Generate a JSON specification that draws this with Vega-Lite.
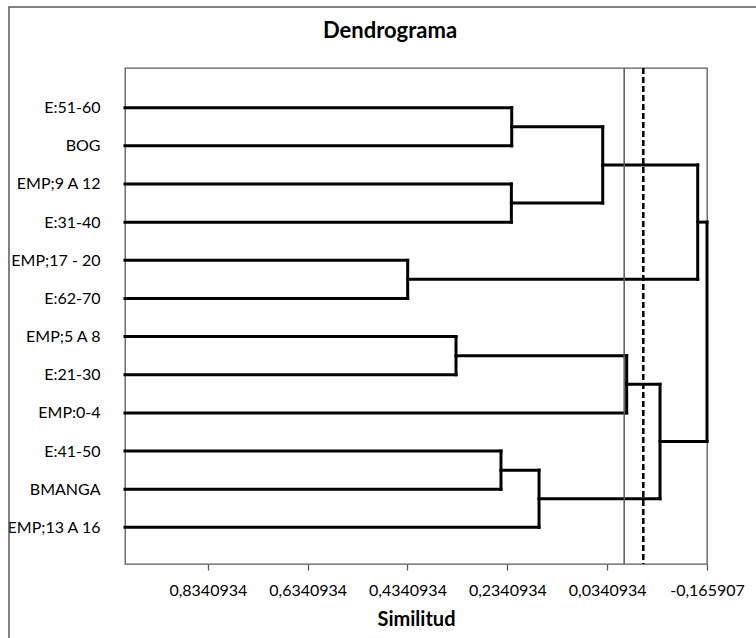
{
  "$schema": "https://vega.github.io/schema/vega-lite/v6.json",
  "autosize": {"type": "none"},
  "width": 582,
  "height": 496,
  "padding": {"left": 125, "top": 68, "right": 49, "bottom": 74},
  "background": "white",
  "title": {"text": "Dendrograma", "font": "Lato", "fontSize": 22, "fontWeight": "bold", "color": "#000", "anchor": "middle", "frame": "group", "dx": -26, "offset": -54, "baseline": "alphabetic"},
  "config": {
    "view": {"stroke": "#595959", "strokeWidth": 1.3},
    "font": "Lato",
    "axis": {"grid": false, "domain": false, "labelFont": "Lato", "labelFontSize": 16, "labelColor": "#000", "tickColor": "#595959", "tickWidth": 1.3, "titleFont": "Lato", "titleColor": "#000"}
  },
  "layer": [
    {
      "data": {"values": [{}]},
      "mark": {"type": "rect", "fillOpacity": 0, "stroke": "#595959", "strokeWidth": 1.5},
      "encoding": {
        "x": {"datum": 1.2324, "type": "quantitative"},
        "x2": {"datum": -0.3},
        "y": {"datum": -1.64, "type": "quantitative"},
        "y2": {"datum": 16}
      }
    },
    {
      "data": {"values": [
        {"x1": 1.0, "x2": 0.2253, "y1": 1, "y2": 1},
        {"x1": 1.0, "x2": 0.2253, "y1": 2, "y2": 2},
        {"x1": 1.0, "x2": 0.226, "y1": 3, "y2": 3},
        {"x1": 1.0, "x2": 0.226, "y1": 4, "y2": 4},
        {"x1": 1.0, "x2": 0.4337, "y1": 5, "y2": 5},
        {"x1": 1.0, "x2": 0.4337, "y1": 6, "y2": 6},
        {"x1": 1.0, "x2": 0.3369, "y1": 7, "y2": 7},
        {"x1": 1.0, "x2": 0.3369, "y1": 8, "y2": 8},
        {"x1": 1.0, "x2": -0.005, "y1": 9, "y2": 9},
        {"x1": 1.0, "x2": 0.2468, "y1": 10, "y2": 10},
        {"x1": 1.0, "x2": 0.2468, "y1": 11, "y2": 11},
        {"x1": 1.0, "x2": 0.1706, "y1": 12, "y2": 12},
        {"x1": 0.2253, "x2": 0.2253, "y1": 1, "y2": 2},
        {"x1": 0.2253, "x2": 0.043, "y1": 1.5, "y2": 1.5},
        {"x1": 0.226, "x2": 0.226, "y1": 3, "y2": 4},
        {"x1": 0.226, "x2": 0.043, "y1": 3.5, "y2": 3.5},
        {"x1": 0.043, "x2": 0.043, "y1": 1.5, "y2": 3.5},
        {"x1": 0.043, "x2": -0.1473, "y1": 2.5, "y2": 2.5},
        {"x1": 0.4337, "x2": 0.4337, "y1": 5, "y2": 6},
        {"x1": 0.4337, "x2": -0.1473, "y1": 5.5, "y2": 5.5},
        {"x1": -0.1473, "x2": -0.1473, "y1": 2.5, "y2": 5.5},
        {"x1": -0.1473, "x2": -0.165907, "y1": 4, "y2": 4},
        {"x1": 0.3369, "x2": 0.3369, "y1": 7, "y2": 8},
        {"x1": 0.3369, "x2": -0.005, "y1": 7.5, "y2": 7.5},
        {"x1": -0.005, "x2": -0.005, "y1": 7.5, "y2": 9},
        {"x1": -0.005, "x2": -0.0718, "y1": 8.25, "y2": 8.25},
        {"x1": 0.2468, "x2": 0.2468, "y1": 10, "y2": 11},
        {"x1": 0.2468, "x2": 0.1706, "y1": 10.5, "y2": 10.5},
        {"x1": 0.1706, "x2": 0.1706, "y1": 10.5, "y2": 12},
        {"x1": 0.1706, "x2": -0.0718, "y1": 11.25, "y2": 11.25},
        {"x1": -0.0718, "x2": -0.0718, "y1": 8.25, "y2": 11.25},
        {"x1": -0.0718, "x2": -0.165907, "y1": 9.75, "y2": 9.75},
        {"x1": -0.165907, "x2": -0.165907, "y1": 4, "y2": 9.75}
      ]},
      "mark": {"type": "rule", "color": "#000", "strokeWidth": 3, "strokeCap": "square"},
      "encoding": {
        "x": {"field": "x1", "type": "quantitative",
          "scale": {"domain": [-0.165907, 1.0], "reverse": true, "nice": false, "zero": false},
          "axis": {"title": "Similitud", "titleFontSize": 20, "titleFontWeight": "bold", "titlePadding": 11,
            "values": [0.8340934, 0.6340934, 0.4340934, 0.2340934, 0.0340934, -0.165907],
            "labelOverlap": false, "labelBound": false, "labelFlush": false,
            "labelExpr": "replace(toString(datum.value), '.', ',')", "tickSize": 6, "labelPadding": 12}},
        "x2": {"field": "x2"},
        "y": {"field": "y1", "type": "quantitative",
          "scale": {"domain": [-0.04, 12.96], "reverse": true, "nice": false, "zero": false},
          "axis": {"title": null, "ticks": false, "labelPadding": 25, "labelOverlap": false, "labelFlush": false,
            "values": [1, 2, 3, 4, 5, 6, 7, 8, 9, 10, 11, 12],
            "labelExpr": "['E:51-60','BOG','EMP;9 A 12','E:31-40','EMP;17 - 20','E:62-70','EMP;5 A 8','E:21-30','EMP:0-4','E:41-50','BMANGA','EMP;13 A 16'][datum.value - 1]"}},
        "y2": {"field": "y2"}
      }
    },
    {
      "data": {"values": [{"ref": 0.0}]},
      "mark": {"type": "rule", "color": "#595959", "strokeWidth": 1.5},
      "encoding": {"x": {"field": "ref", "type": "quantitative"}}
    },
    {
      "data": {"values": [{"ref": -0.0383}]},
      "mark": {"type": "rule", "color": "#000", "strokeWidth": 2.5, "strokeDash": [6, 3]},
      "encoding": {"x": {"field": "ref", "type": "quantitative"}}
    }
  ]
}
